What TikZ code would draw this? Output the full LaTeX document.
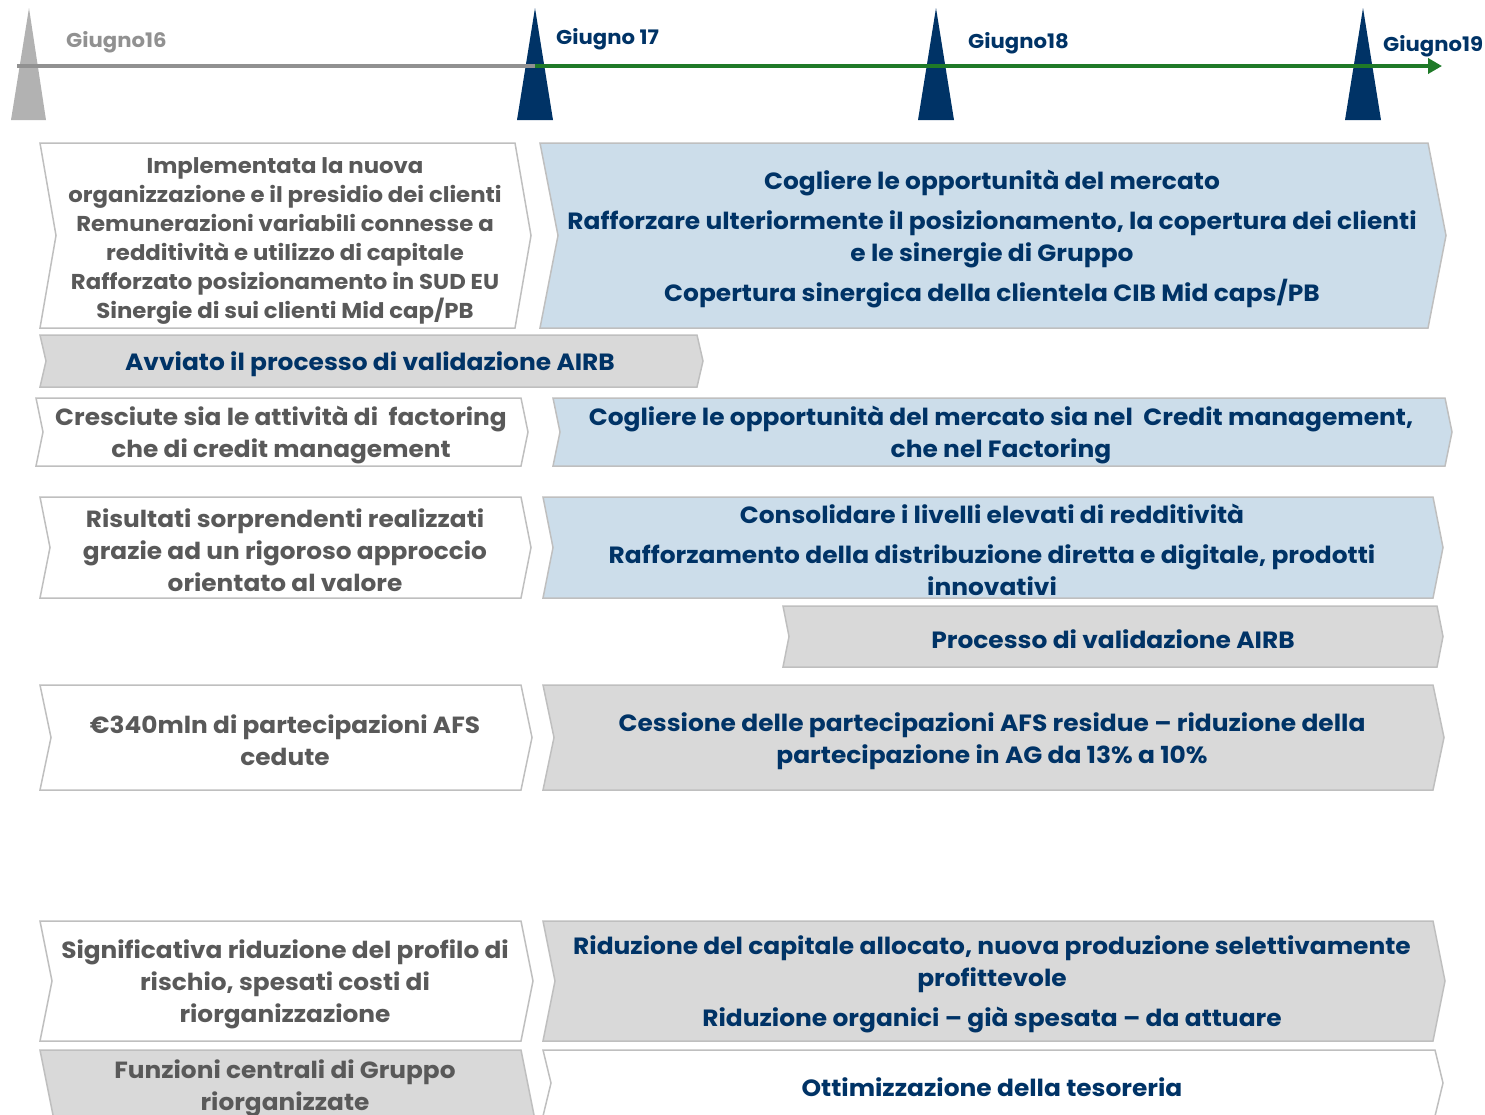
\documentclass[tikz,border=0pt]{standalone}
\usepackage{fontspec}
\setmainfont{Poppins}[FakeStretch=1.06]
\usetikzlibrary{arrows.meta}
\definecolor{navy}{RGB}{0,51,102}
\definecolor{txtgray}{RGB}{89,89,89}
\definecolor{bluefill}{RGB}{204,221,234}
\definecolor{grayfill}{RGB}{217,217,217}
\definecolor{edgegray}{RGB}{191,191,191}
\definecolor{tlgreen}{RGB}{31,122,40}
\definecolor{tlgray}{RGB}{145,145,145}
\definecolor{trigray}{RGB}{178,178,178}
\newcommand\chevbox[6]{%
  \draw[#6] (#1,#3) -- (#2,#3) -- ({#2+#5},{(#3+#4)/2}) -- (#2,#4) -- (#1,#4) -- ({#1+#5},{(#3+#4)/2}) -- cycle;}
\tikzset{
  whitebox/.style={draw=edgegray, line width=1.5pt, fill=white},
  bluebox/.style={draw=edgegray, line width=1.5pt, fill=bluefill},
  graybox/.style={draw=edgegray, line width=1.5pt, fill=grayfill},
  lefttxt/.style={text=txtgray, font=\bfseries\fontsize{23.4}{32}\selectfont, align=center, inner sep=0pt},
  righttxt/.style={text=navy, font=\bfseries\fontsize{23.5}{32}\selectfont, align=center, inner sep=0pt},
  tltxt/.style={font=\bfseries\fontsize{20}{22}\selectfont, inner sep=0pt, anchor=west},
}
\begin{document}
\begin{tikzpicture}[x=1pt,y=-1pt]
\useasboundingbox (0,0) rectangle (1485,1114);
\clip (0,0) rectangle (1485,1114);
% timeline
\fill[trigray] (29,8) -- (46,120) -- (11,120) -- cycle;
\fill[navy] (535,8) -- (553,120) -- (517,120) -- cycle;
\fill[navy] (936,8) -- (954,120) -- (918,120) -- cycle;
\fill[navy] (1363,8) -- (1381,120) -- (1345,120) -- cycle;
\coordinate (tlstart) at (17,66);
\coordinate (tlmid) at (535,66);
\coordinate (tlend) at (1442,66);
\draw[tlgray, line width=3.5pt] (tlstart) -- (tlmid);
\draw[tlgreen, line width=3.5pt, -{Triangle[length=14pt,width=15pt]}] (tlmid) -- (tlend);
\node[tltxt, text=tlgray] (g16) at (66,42) {Giugno16};
\node[tltxt, text=navy] (g17) at (556,39) {Giugno 17};
\node[tltxt, text=navy] (g18) at (968,43) {Giugno18};
\node[tltxt, text=navy] (g19) at (1383,46) {Giugno19};
% row 1
\chevbox{40}{515}{143}{328}{16}{whitebox}
\node[lefttxt, font=\bfseries\fontsize{21.5}{29}\selectfont] (l1) at (285,241) {Implementata la nuova\\organizzazione e il presidio dei clienti\\Remunerazioni variabili connesse a\\redditività e utilizzo di capitale\\Rafforzato posizionamento in SUD EU\\Sinergie di sui clienti Mid cap/PB};
\chevbox{540}{1428}{143}{328}{18}{bluebox}
\node[righttxt] (r1) at (992,239) {Cogliere le opportunità del mercato\\[8pt]Rafforzare ulteriormente il posizionamento, la copertura dei clienti\\e le sinergie di Gruppo\\[8pt]Copertura sinergica della clientela CIB Mid caps/PB};
% AIRB
\chevbox{40}{697}{335}{387}{6}{graybox}
\node[righttxt] (airb) at (370,364) {Avviato il processo di validazione AIRB};
% row 2
\chevbox{36}{521}{398}{466}{7}{whitebox}
\node[lefttxt] (l2) at (281,435) {Cresciute sia le attività di\ \ factoring\\che di credit management};
\chevbox{553}{1445}{398}{466}{7}{bluebox}
\node[righttxt] (r2) at (1001,435) {Cogliere le opportunità del mercato sia nel\ \ Credit management,\\che nel Factoring};
% row 3
\chevbox{40}{521}{497}{598}{10}{whitebox}
\node[lefttxt] (l3) at (285,550) {Risultati sorprendenti realizzati\\grazie ad un rigoroso approccio\\orientato al valore};
\chevbox{543}{1433}{497}{598}{10}{bluebox}
\node[righttxt] (r3) at (992,550) {Consolidare i livelli elevati di redditività\\[8pt]Rafforzamento della distribuzione diretta e digitale, prodotti\\innovativi};
% AIRB 2
\chevbox{783}{1437}{606}{667}{6}{graybox}
\node[righttxt] (airb2) at (1113,639) {Processo di validazione AIRB};
% row 4
\chevbox{40}{521}{685}{790}{11}{whitebox}
\node[lefttxt] (l4) at (285,740) {€340mln di partecipazioni AFS\\cedute};
\chevbox{543}{1433}{685}{790}{11}{graybox}
\node[righttxt] (r4) at (992,741) {Cessione delle partecipazioni AFS residue – riduzione della\\partecipazione in AG da 13\% a 10\%};
% row 5
\chevbox{40}{521}{921}{1041}{12}{whitebox}
\node[lefttxt] (l5) at (285,984) {Significativa riduzione del profilo di\\rischio, spesati costi di\\riorganizzazione};
\chevbox{543}{1433}{921}{1041}{12}{graybox}
\node[righttxt] (r5) at (992,984) {Riduzione del capitale allocato, nuova produzione selettivamente\\profittevole\\[8pt]Riduzione organici – già spesata – da attuare};
% row 6
\chevbox{40}{521}{1050}{1180}{13}{graybox}
\node[lefttxt] (l6) at (285,1088) {Funzioni centrali di Gruppo\\riorganizzate};
\chevbox{543}{1435}{1050}{1116}{8}{whitebox}
\node[righttxt] (r6) at (992,1087) {Ottimizzazione della tesoreria};
\end{tikzpicture}
\end{document}
